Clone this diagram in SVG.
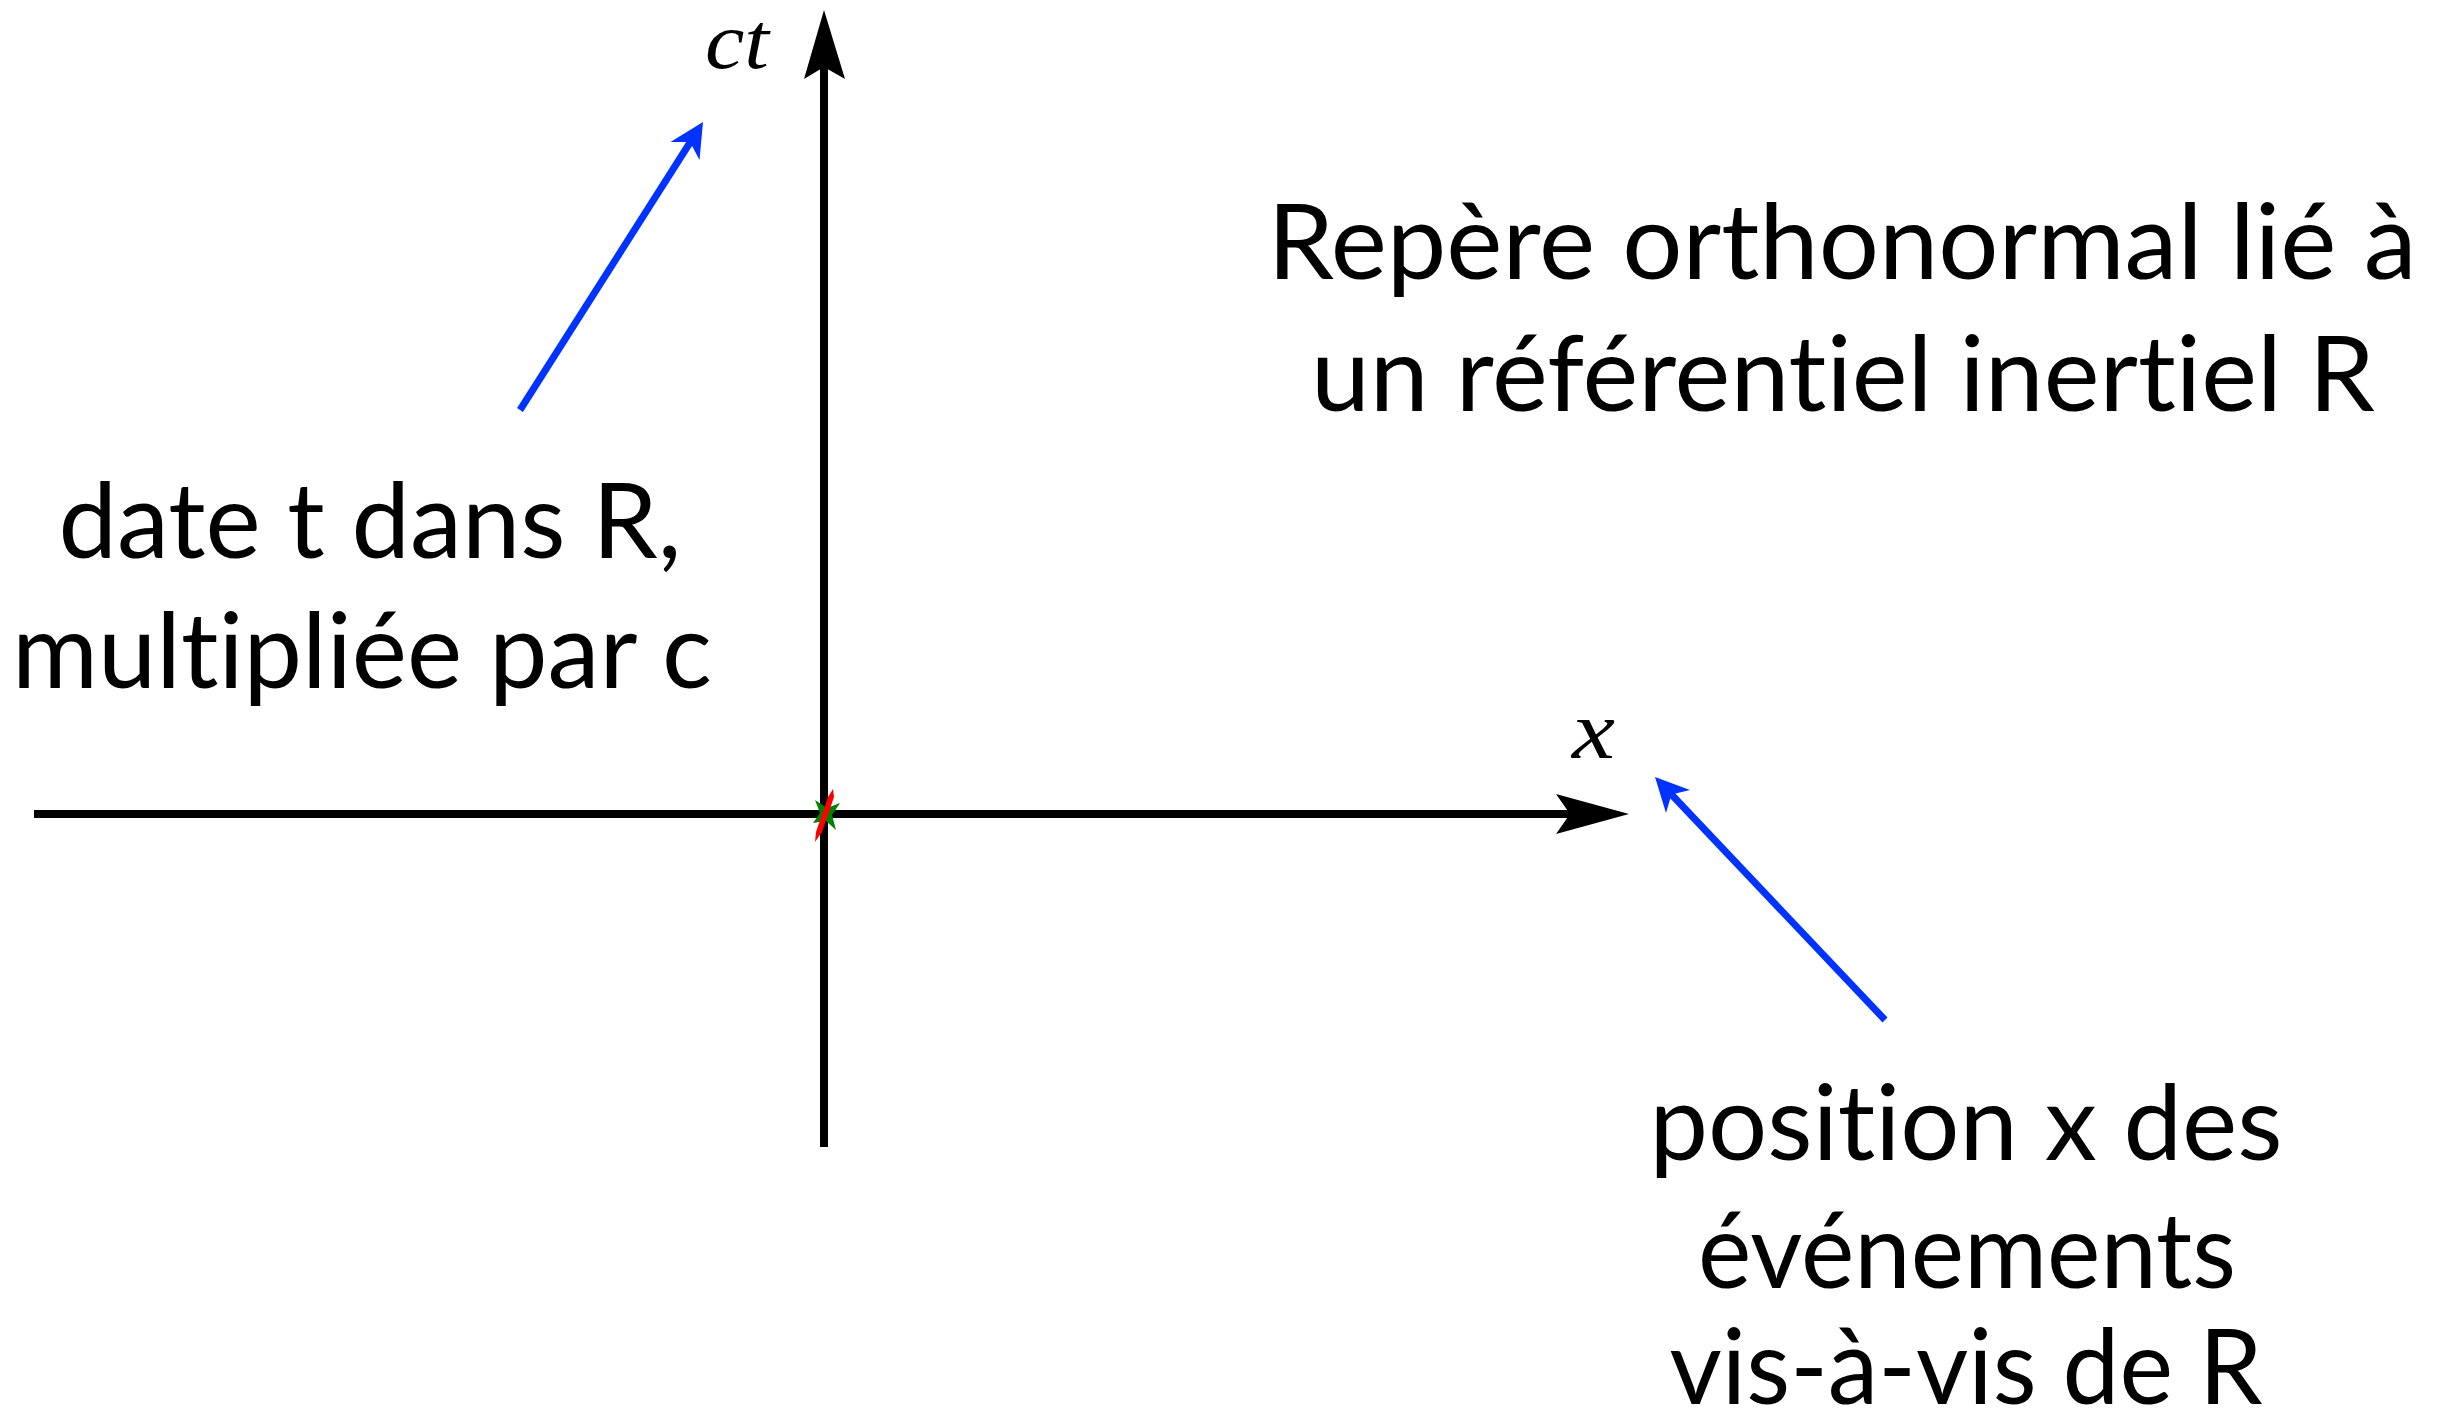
<svg xmlns="http://www.w3.org/2000/svg" width="2447" height="1427" viewBox="0 0 2447 1427">
<style>
.lbl{font-family:Lato,"Open Sans","Liberation Sans",sans-serif;font-size:104px;fill:#000;text-anchor:middle;font-variant-ligatures:none;font-feature-settings:"liga" 0,"clig" 0,"dlig" 0}
.math{font-family:"Liberation Serif","DejaVu Serif",serif;font-style:italic;fill:#000}
.axis{stroke:#000;stroke-width:8;fill:none}
.ptr{stroke:#0033ff;stroke-width:7;fill:none}
.head{fill:#000}
.bhead{fill:#0033ff}
</style>
<rect width="2447" height="1427" fill="#fff"/>
<g id="connectors">
  <line class="axis" x1="824" y1="1147" x2="824" y2="66"/>
  <polygon class="head" points="824,10 845,79 824,67 804,79"/>
  <line class="axis" x1="34" y1="814" x2="1571" y2="814"/>
  <polygon class="head" points="1629,814 1556,834 1570,814 1556,794"/>
  <line class="ptr" x1="520" y1="410" x2="691" y2="141"/>
  <polygon class="bhead" points="703,122 699.5,160 690,142 670.5,142"/>
  <line class="ptr" x1="1885" y1="1020" x2="1671" y2="794"/>
  <polygon class="bhead" points="1655,777 1690,790 1671.5,794.4 1666,813"/>
</g>
<g id="origin">
  <polygon fill="#008000" points="815,800 827,808 840,803 832,815 836,830 826,821 813,823 820,813"/>
  <polygon fill="#ff0000" points="833,789 834,797 822,832 815,842 816,832 828,797"/>
</g>
<g id="label-ct"><text class="math" x="705" y="68" font-size="80" textLength="64" lengthAdjust="spacingAndGlyphs">ct</text></g>
<g id="label-x"><text class="math" x="1572" y="758" font-size="82" textLength="43" lengthAdjust="spacingAndGlyphs">x</text></g>
<g id="title">
  <text class="lbl" x="1842" y="279" textLength="1149" lengthAdjust="spacingAndGlyphs">Repère orthonormal lié à</text>
  <text class="lbl" x="1843" y="411" textLength="1064" lengthAdjust="spacingAndGlyphs">un référentiel inertiel R</text>
</g>
<g id="label-date">
  <text class="lbl" x="370" y="558" textLength="623" lengthAdjust="spacingAndGlyphs">date t dans R,</text>
  <text class="lbl" x="362" y="688" textLength="700" lengthAdjust="spacingAndGlyphs">multipliée par c</text>
</g>
<g id="label-position">
  <text class="lbl" x="1966" y="1160" textLength="633" lengthAdjust="spacingAndGlyphs">position x des</text>
  <text class="lbl" x="1967" y="1288" textLength="538" lengthAdjust="spacingAndGlyphs">événements</text>
  <text class="lbl" x="1966" y="1404" textLength="593" lengthAdjust="spacingAndGlyphs">vis-à-vis de R</text>
</g>
</svg>
